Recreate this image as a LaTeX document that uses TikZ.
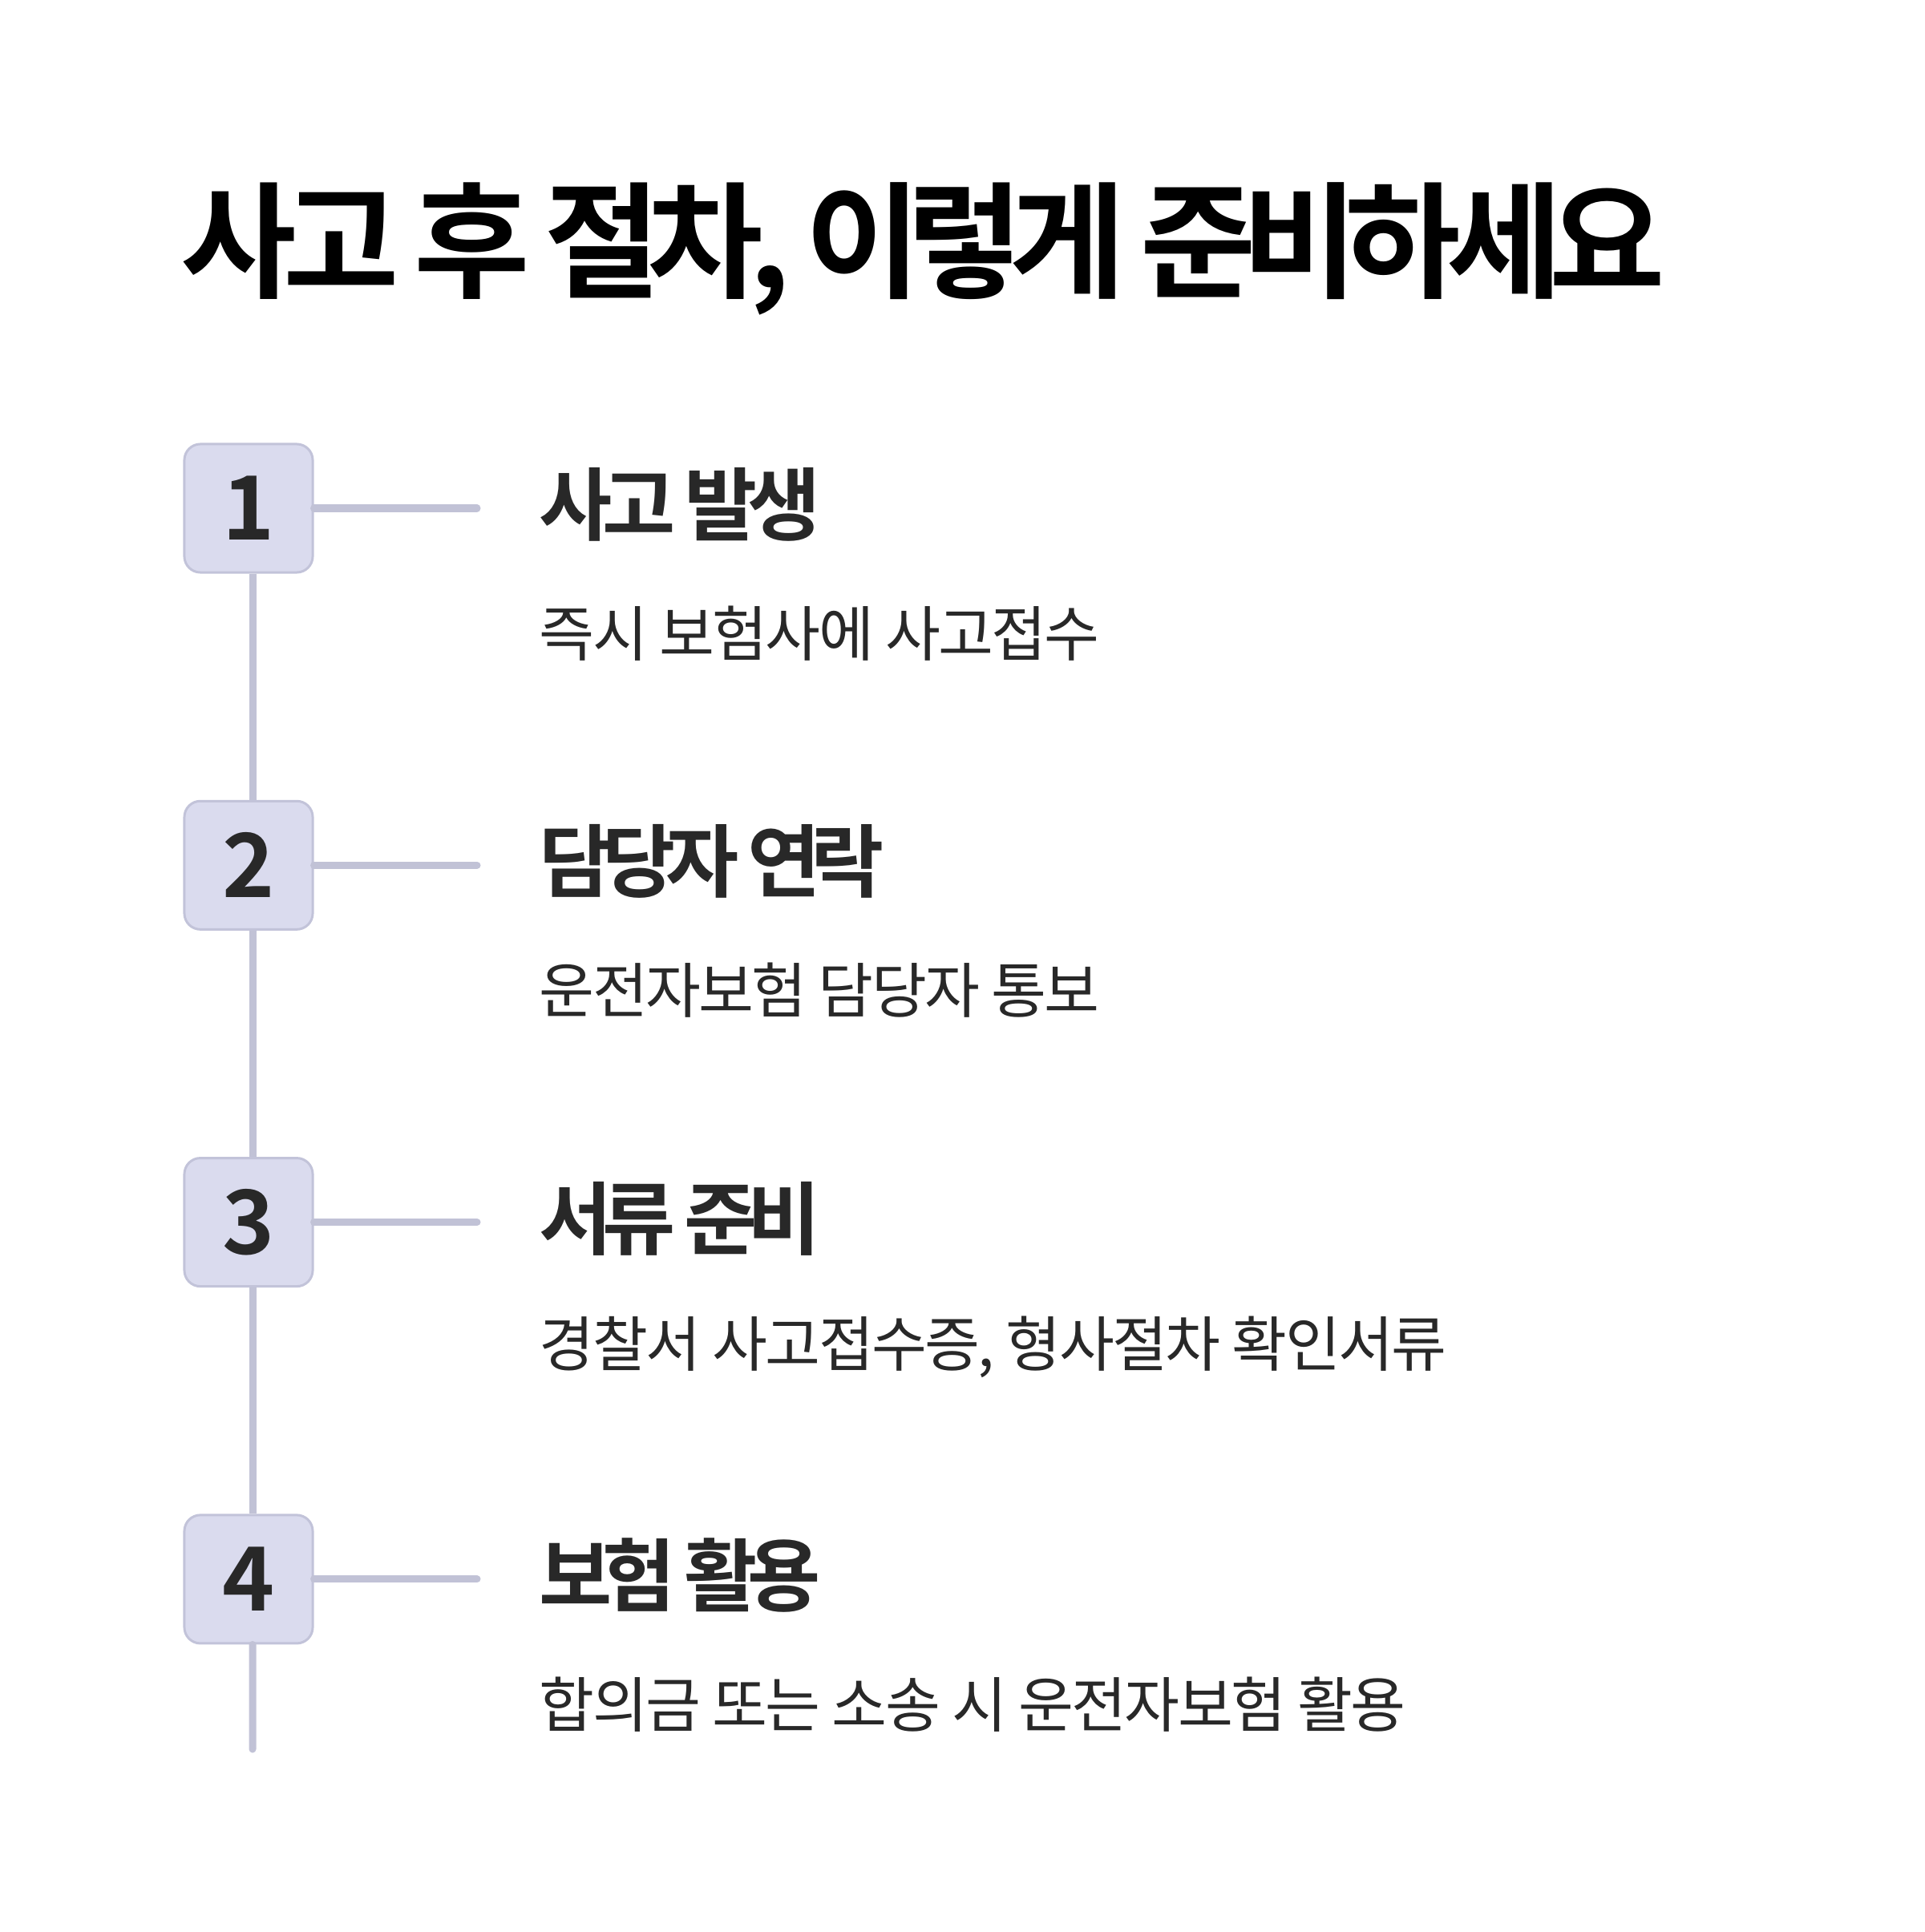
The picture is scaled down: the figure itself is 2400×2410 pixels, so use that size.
\documentclass[tikz,border=0pt]{standalone}
\usepackage{fontspec}
\setmainfont{Noto Sans CJK KR}
\newfontfamily\titlefont[LetterSpace=-10.9]{Noto Sans CJK KR Bold}
\newfontfamily\headfont[LetterSpace=-12.3]{Noto Sans CJK KR Bold}
\newfontfamily\descfont[LetterSpace=-3.5]{Noto Sans CJK KR}
\newfontfamily\numfont{Noto Sans CJK KR Bold}
\usetikzlibrary{positioning}
\definecolor{stepfill}{RGB}{218,219,238}
\definecolor{stepdraw}{RGB}{194,195,217}
\definecolor{railline}{RGB}{193,194,214}
\definecolor{bodytext}{RGB}{40,40,40}

\begin{document}
\begin{tikzpicture}[
    x=0.01cm, y=-0.01cm,
    stepbox/.style={rectangle, rounded corners=0.2cm, draw=stepdraw,
                    line width=0.03cm, fill=stepfill, minimum size=1.6cm,
                    inner sep=0pt, text=bodytext,
                    font=\numfont\fontsize{31.4pt}{32pt}\selectfont},
    rail/.style={-, line width=0.09cm, color=railline, line cap=round},
    steptitle/.style={anchor=west, inner sep=0pt, text=bodytext,
                      font=\headfont\fontsize{28.2pt}{30pt}\selectfont},
    stepdesc/.style={anchor=west, inner sep=0pt, text=bodytext,
                     font=\descfont\fontsize{21.3pt}{23pt}\selectfont},
]
\useasboundingbox (0,0) rectangle (2400,2410);

% ======================================================
% Title
% ======================================================
\node[anchor=west, inner sep=0pt, text=black,
      font=\titlefont\fontsize{44.7pt}{46pt}\selectfont]
     (title) at (225,310) {사고 후 절차, 이렇게 준비하세요};

% ======================================================
% Steps: numbered box, heading and one line of detail.
% ======================================================
\foreach \h/\d [count=\i from 1] in
  {사고 발생/즉시 보험사에 사고접수,
   담당자 연락/운전자보험 담당자 통보,
   서류 준비/{경찰서 사고접수증, 형사절차 확인서류},
   보험 활용/합의금 또는 소송 시 운전자보험 활용} {
    \node[stepbox] (b\i) at (310, 634+445.3*\i-445.3) {\i};
    \coordinate (tick\i) at (595, 634+445.3*\i-445.3);
    \node[steptitle] (h\i) at (672, 629.5+445.3*\i-445.3) {\h};
    \node[stepdesc] (d\i) at (672, 790+445.3*\i-445.3) {\d};
    \draw[rail] (b\i.east) -- (tick\i);
}

% vertical rail between the boxes
\coordinate (railend) at (315,2182);
\foreach \i [evaluate=\i as \j using int(\i+1)] in {1,2,3} {
    \draw[rail, line cap=butt] ([xshift=0.05cm]b\i.south) -- ([xshift=0.05cm]b\j.north);
}
\draw[rail] ([xshift=0.05cm]b4.south) -- (railend);

\end{tikzpicture}
\end{document}
